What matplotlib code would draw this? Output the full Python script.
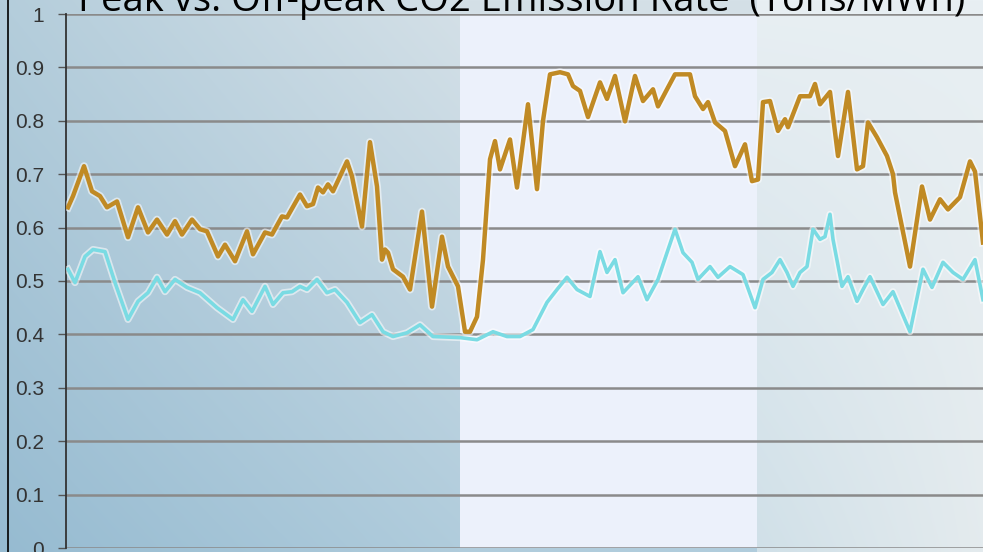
import numpy as np
import matplotlib
matplotlib.use("Agg")
import matplotlib.pyplot as plt
import matplotlib.patheffects as pe

# ---------------- data ----------------
title = "Peak vs. Off-peak CO2 Emission Rate  (Tons/MWh)"
y_ticks = [0, 0.1, 0.2, 0.3, 0.4, 0.5, 0.6, 0.7, 0.8, 0.9, 1]
y_tick_labels = ["0", "0.1", "0.2", "0.3", "0.4", "0.5", "0.6", "0.7", "0.8", "0.9", "1"]

peak_x = [2, 7, 18, 26, 34, 41, 51, 62, 72, 82, 91, 101, 109, 116, 126, 134, 141, 152,
          159, 169, 181, 187, 199, 206, 216, 221, 234, 241, 247, 252, 257, 262, 267, 281,
          286, 296, 304, 311, 316, 319, 322, 327, 337, 344, 356, 366, 376, 382, 392, 399,
          404, 411, 417, 424, 429, 434, 444, 451, 462, 471, 477, 484, 494, 502, 507, 514,
          522, 534, 541, 549, 559, 569, 577, 587, 592, 601, 609, 624, 629, 637, 642, 649,
          659, 669, 679, 686, 692, 697, 704, 712, 719, 722, 734, 744, 749, 754, 764, 772,
          782, 791, 797, 802, 811, 821, 827, 829, 844, 856, 864, 874, 882, 894, 904, 909, 917]
peak_y = [0.638, 0.659, 0.715, 0.668, 0.659, 0.638, 0.649, 0.582, 0.638, 0.591, 0.615, 0.587,
          0.612, 0.587, 0.615, 0.597, 0.593, 0.546, 0.568, 0.537, 0.593, 0.550, 0.591, 0.587,
          0.621, 0.619, 0.662, 0.640, 0.644, 0.675, 0.666, 0.681, 0.668, 0.724, 0.696, 0.602,
          0.760, 0.677, 0.540, 0.559, 0.553, 0.522, 0.508, 0.484, 0.630, 0.452, 0.583, 0.527,
          0.490, 0.405, 0.405, 0.433, 0.540, 0.728, 0.762, 0.709, 0.765, 0.675, 0.831, 0.672,
          0.800, 0.887, 0.891, 0.887, 0.865, 0.856, 0.807, 0.872, 0.841, 0.884, 0.799, 0.884,
          0.837, 0.859, 0.827, 0.859, 0.887, 0.887, 0.846, 0.822, 0.835, 0.797, 0.781, 0.715,
          0.756, 0.687, 0.690, 0.835, 0.837, 0.781, 0.803, 0.788, 0.846, 0.846, 0.869, 0.831,
          0.854, 0.734, 0.854, 0.709, 0.715, 0.797, 0.769, 0.734, 0.700, 0.666, 0.527, 0.677,
          0.615, 0.653, 0.634, 0.657, 0.724, 0.705, 0.572]

offpeak_x = [2, 9, 19, 27, 39, 49, 62, 72, 82, 91, 99, 109, 121, 134, 151, 167, 177, 186,
             199, 207, 217, 226, 234, 241, 251, 261, 269, 281, 294, 306, 317, 327, 341, 354,
             367, 394, 411, 427, 441, 454, 467, 481, 491, 501, 511, 524, 534, 541, 549, 557,
             572, 581, 592, 601, 609, 617, 626, 632, 644, 652, 664, 677, 689, 697, 706, 714,
             721, 727, 734, 741, 747, 754, 759, 764, 767, 776, 782, 791, 797, 804, 817, 827,
             844, 857, 866, 877, 887, 897, 909, 917]
offpeak_y = [0.522, 0.497, 0.546, 0.559, 0.555, 0.497, 0.428, 0.462, 0.478, 0.507, 0.480,
             0.503, 0.488, 0.478, 0.450, 0.428, 0.465, 0.443, 0.490, 0.456, 0.478, 0.480,
             0.490, 0.484, 0.503, 0.478, 0.484, 0.460, 0.422, 0.437, 0.405, 0.396, 0.403,
             0.418, 0.396, 0.394, 0.390, 0.405, 0.396, 0.396, 0.409, 0.460, 0.484, 0.507,
             0.484, 0.471, 0.555, 0.516, 0.540, 0.478, 0.508, 0.465, 0.503, 0.553, 0.597,
             0.553, 0.535, 0.503, 0.527, 0.507, 0.527, 0.512, 0.450, 0.503, 0.516, 0.540,
             0.516, 0.490, 0.516, 0.527, 0.597, 0.578, 0.583, 0.625, 0.578, 0.490, 0.508,
             0.462, 0.484, 0.508, 0.456, 0.480, 0.405, 0.522, 0.488, 0.535, 0.516, 0.503,
             0.540, 0.465]

x_range = [0, 917]
band_range = [394, 691]

# ---------------- figure ----------------
W, H = 983, 552
fig = plt.figure(figsize=(W / 100, H / 100), dpi=100)

# background gradient (figure-level decoration)
bg = fig.add_axes([0, 0, 1, 1])
bg.set_axis_off()
xs = np.linspace(0, 1, W)[None, :, None]
ys = np.linspace(0, 1, H)[:, None, None]
left_top_l = np.array([180, 205, 219]) / 255
left_top_r = np.array([212, 224, 231]) / 255
left_bot_l = np.array([150, 187, 209]) / 255
left_bot_r = np.array([176, 204, 220]) / 255
fx = np.clip(xs / (460 / W), 0, 1)
top = left_top_l * (1 - fx) + left_top_r * fx
bot = left_bot_l * (1 - fx) + left_bot_r * fx
img = top * (1 - ys) + bot * ys
right_top = np.array([232, 239, 243]) / 255
right_bot_l = np.array([208, 224, 232]) / 255
right_bot_r = np.array([228, 235, 238]) / 255
rf = np.clip((xs - 757 / W) / ((W - 757) / W), 0, 1)
rbot = right_bot_l * (1 - rf) + right_bot_r * rf
rimg = right_top * (1 - ys) + rbot * ys
mask = (np.arange(W) >= 757)
img[:, mask, :] = rimg[:, mask, :]
bg.imshow(img, extent=[0, 1, 0, 1], aspect="auto", origin="upper")
bg.set_xlim(0, 1)
bg.set_ylim(0, 1)
bg.plot([8 / W, 8 / W], [0, 1], color="black", lw=1.2, transform=bg.transAxes)

ax = fig.add_axes([66 / W, 4 / H, 1 - 66 / W, 534 / H])
ax.patch.set_alpha(0)
ax.set_xlim(*x_range)
ax.set_ylim(0, 1)

ax.axvspan(band_range[0], band_range[1], color="#ecf1fb", zorder=0, lw=0)

for yt in y_ticks:
    ax.axhline(yt, color="#8a8a8a", lw=1.8, zorder=1)

halo = lambda w: [pe.Stroke(linewidth=w + 2.5, foreground="white", alpha=0.55), pe.Normal()]
ax.plot(offpeak_x, offpeak_y, color="#7adbe3", lw=2.6, zorder=3,
        solid_joinstyle="round", path_effects=halo(2.6))
ax.plot(peak_x, peak_y, color="#c08a24", lw=3.2, zorder=4,
        solid_joinstyle="round", path_effects=halo(3.2))

for s in ["top", "right", "bottom"]:
    ax.spines[s].set_visible(False)
ax.spines["left"].set_color("#333333")
ax.spines["left"].set_linewidth(1.3)
ax.set_xticks([])
ax.set_yticks(y_ticks)
ax.set_yticklabels(y_tick_labels)
ax.tick_params(axis="y", length=6, width=1.0, color="#555555", labelsize=15,
               labelcolor="#333333", pad=10)
for lbl in ax.get_yticklabels():
    lbl.set_fontfamily("Liberation Sans")

fig.text(0.531, (H - 11) / H, title, ha="center", va="baseline",
         fontsize=27.5, family="Open Sans", color="black")

fig.savefig("out.png", dpi=100)
